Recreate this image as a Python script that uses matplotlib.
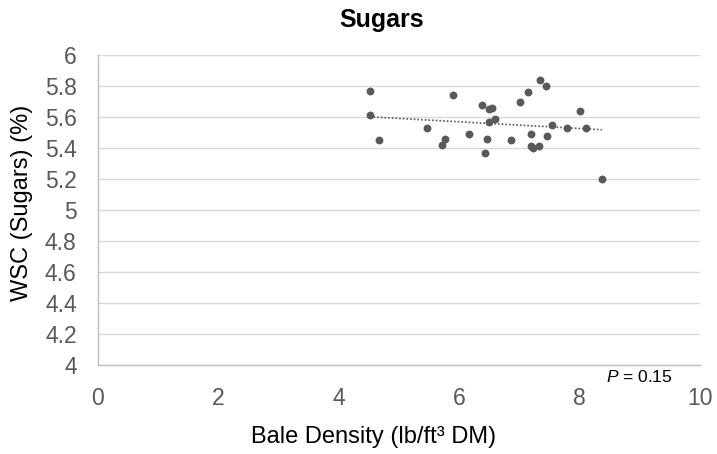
import numpy as np
import matplotlib
matplotlib.use("Agg")
import matplotlib.pyplot as plt

plt.rcParams['font.family'] = ['Liberation Sans', 'DejaVu Sans']
plt.rcParams['mathtext.fontset'] = 'custom'
plt.rcParams['mathtext.rm'] = 'Liberation Sans'
plt.rcParams['mathtext.it'] = 'Liberation Sans:italic'

# Bale density (lb/ft3 DM) and water-soluble carbohydrate content (%)
density = [4.53, 4.52, 4.67, 5.47, 5.72, 5.76, 5.90, 6.17, 6.39, 6.43,
           6.47, 6.50, 6.54, 6.50, 6.59, 6.86, 7.01, 7.15, 7.20, 7.19,
           7.23, 7.33, 7.34, 7.45, 7.46, 7.54, 7.80, 8.00, 8.10, 8.37]
wsc = [5.77, 5.61, 5.45, 5.53, 5.42, 5.46, 5.74, 5.49, 5.68, 5.37,
       5.46, 5.65, 5.66, 5.57, 5.59, 5.45, 5.70, 5.76, 5.49, 5.41,
       5.40, 5.41, 5.84, 5.80, 5.48, 5.55, 5.53, 5.64, 5.53, 5.20]

x_ticks = [0, 2, 4, 6, 8, 10]
y_ticks = [4, 4.2, 4.4, 4.6, 4.8, 5, 5.2, 5.4, 5.6, 5.8, 6]
y_tick_labels = ['4', '4.2', '4.4', '4.6', '4.8', '5', '5.2', '5.4', '5.6', '5.8', '6']
p_value = 0.15

fig = plt.figure(figsize=(7.17, 4.54), dpi=100)
ax = fig.add_axes([97.5 / 717, (454 - 365) / 454, (700 - 97.5) / 717, (365 - 55) / 454])

ax.scatter(density, wsc, s=32, color='#595959', zorder=3, linewidths=0)

# Linear trendline across the observed density range
x = np.array(density)
y = np.array(wsc)
slope, intercept = np.polyfit(x, y, 1)
xs = np.array([x.min(), x.max()])
ax.plot(xs, slope * xs + intercept, linestyle=(0, (1, 1.2)), color='#595959',
        linewidth=1.2, zorder=2)

ax.set_xlim(0, 10)
ax.set_ylim(4, 6)
ax.set_xticks(x_ticks)
ax.set_yticks(y_ticks)
ax.set_yticklabels(y_tick_labels)
ax.tick_params(axis='both', length=0, labelsize=16.5, colors='#595959')
ax.tick_params(axis='y', pad=15)
ax.tick_params(axis='x', pad=16)

ax.grid(axis='y', color='#d9d9d9', linewidth=1)
ax.set_axisbelow(True)
for side in ['top', 'right']:
    ax.spines[side].set_visible(False)
for side in ['left', 'bottom']:
    ax.spines[side].set_color('#bfbfbf')
    ax.spines[side].set_linewidth(1)

ax.set_title('Sugars', fontsize=18, fontweight='bold', color='black', pad=20, x=0.471)
ax.set_xlabel('Bale Density (lb/ft³ DM)', fontsize=17, color='black')
ax.set_ylabel('WSC (Sugars) (%)', fontsize=17, color='black')
ax.xaxis.set_label_coords(0.458, -0.232)
ax.xaxis.label.set_verticalalignment('center')
ax.yaxis.set_label_coords(-0.125, 0.523)
ax.yaxis.label.set_verticalalignment('center')

ax.text(8.99, 3.975, '$\\it{P}$ = %.2f' % p_value, fontsize=12.5, color='black',
        ha='center', va='top')

fig.savefig('out.png', dpi=100)
